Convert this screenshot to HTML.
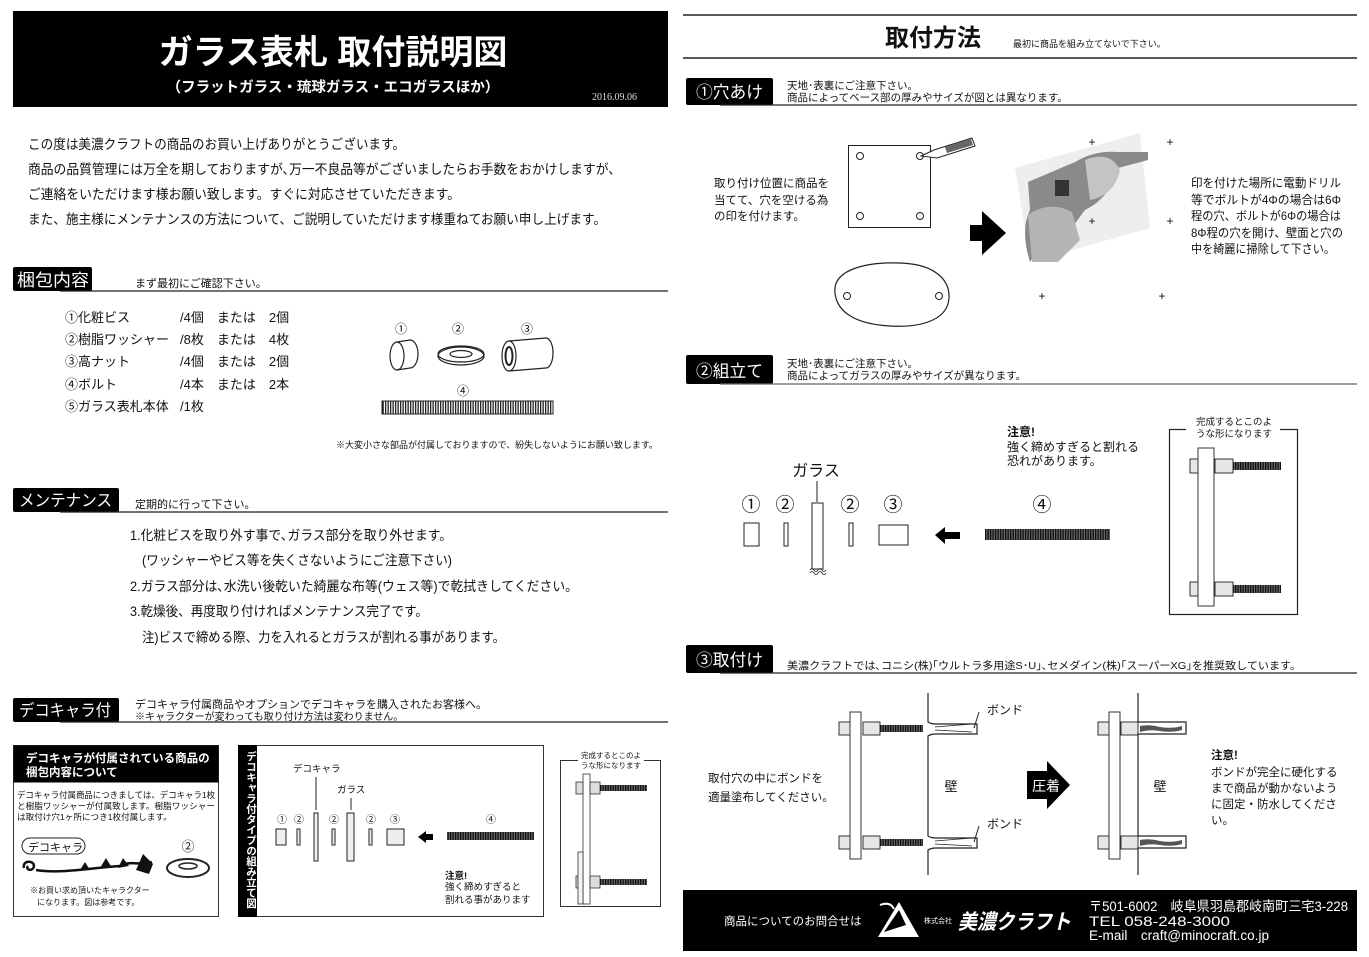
<!DOCTYPE html>
<html><head><meta charset="utf-8"><style>
html,body{margin:0;padding:0;background:#fff;width:1369px;height:957px;overflow:hidden}
svg{display:block}
text{font-family:"Liberation Sans","Noto Sans CJK JP",sans-serif;fill:#111}
</style></head><body>
<svg width="1369" height="957" viewBox="0 0 1369 957" xmlns="http://www.w3.org/2000/svg">
<defs>
<pattern id="thr" width="2.5" height="10" patternUnits="userSpaceOnUse"><rect width="2.5" height="10" fill="#fff"/><rect width="1.3" height="10" fill="#222"/></pattern>
<pattern id="thrd" width="2.5" height="10" patternUnits="userSpaceOnUse"><rect width="2.5" height="10" fill="#666"/><rect width="1.3" height="10" fill="#111"/></pattern>
</defs>

<!-- LEFT HEADER -->
<rect x="13" y="11" width="655" height="96" fill="#000"/>
<text x="333" y="64" text-anchor="middle" font-size="34" font-weight="bold" style="fill:#fff">ガラス表札 取付説明図</text>
<text x="333" y="92" text-anchor="middle" font-size="14.5" font-weight="bold" style="fill:#fff">（フラットガラス・琉球ガラス・エコガラスほか）</text>
<text x="592" y="100" font-size="10" style="fill:#ddd;font-family:'Liberation Serif',serif">2016.09.06</text>

<g font-size="13.5">
<text x="28" y="149" textLength="377" lengthAdjust="spacingAndGlyphs">この度は美濃クラフトの商品のお買い上げありがとうございます。</text>
<text x="28" y="174" textLength="593" lengthAdjust="spacingAndGlyphs">商品の品質管理には万全を期しておりますが､万一不良品等がございましたらお手数をおかけしますが、</text>
<text x="28" y="199" textLength="432" lengthAdjust="spacingAndGlyphs">ご連絡をいただけます様お願い致します。すぐに対応させていただきます。</text>
<text x="28" y="224" textLength="578" lengthAdjust="spacingAndGlyphs">また、施主様にメンテナンスの方法について、ご説明していただけます様重ねてお願い申し上げます。</text>
</g>

<!-- 梱包内容 -->
<rect x="13" y="267" width="79" height="24" fill="#000" rx="2"/>
<text x="17" y="286" font-size="17" style="fill:#fff" textLength="72" lengthAdjust="spacingAndGlyphs">梱包内容</text>
<line x1="60" y1="291" x2="668" y2="291" stroke="#222" stroke-width="1.3"/>
<text x="135" y="287" font-size="11">まず最初にご確認下さい。</text>
<g font-size="13">
<text x="65" y="322">①化粧ビス</text><text x="180" y="322">/4個　または　2個</text>
<text x="65" y="344">②樹脂ワッシャー</text><text x="180" y="344">/8枚　または　4枚</text>
<text x="65" y="366">③高ナット</text><text x="180" y="366">/4個　または　2個</text>
<text x="65" y="389">④ボルト</text><text x="180" y="389">/4本　または　2本</text>
<text x="65" y="411">⑤ガラス表札本体</text><text x="180" y="411">/1枚</text>
</g>
<g font-size="12" text-anchor="middle"><text x="401" y="333">①</text><text x="458" y="333">②</text><text x="527" y="333">③</text><text x="463" y="395">④</text></g>
<g fill="none" stroke="#222" stroke-width="1.2">
<path d="M397,342 L410,340 A8,14 0 0 1 410,368 L397,370"/><ellipse cx="397" cy="356" rx="7" ry="14"/>
<ellipse cx="461" cy="356" rx="23" ry="9"/><ellipse cx="461" cy="354" rx="23" ry="8"/><ellipse cx="461" cy="354" rx="11" ry="3.5"/>
<path d="M509,341 L546,338 A7,15 0 0 1 546,368 L509,371"/><ellipse cx="509" cy="356" rx="7" ry="15"/><ellipse cx="509" cy="356" rx="3.5" ry="9" stroke-width="2"/>
</g>
<rect x="382" y="401" width="171" height="13" fill="url(#thr)" stroke="#222"/>
<text x="336" y="448" font-size="9">※大変小さな部品が付属しておりますので、紛失しないようにお願い致します。</text>

<!-- メンテナンス -->
<rect x="13" y="488" width="106" height="24" fill="#000" rx="2"/>
<text x="19" y="506" font-size="16.5" style="fill:#fff" textLength="93" lengthAdjust="spacingAndGlyphs">メンテナンス</text>
<line x1="60" y1="512" x2="668" y2="512" stroke="#222" stroke-width="1.3"/>
<text x="135" y="508" font-size="11">定期的に行って下さい。</text>
<g font-size="13.5">
<text x="130" y="540" textLength="322" lengthAdjust="spacingAndGlyphs">1.化粧ビスを取り外す事で､ガラス部分を取り外せます。</text>
<text x="142" y="565" textLength="310" lengthAdjust="spacingAndGlyphs">(ワッシャーやビス等を失くさないようにご注意下さい)</text>
<text x="130" y="591" textLength="448" lengthAdjust="spacingAndGlyphs">2.ガラス部分は､水洗い後乾いた綺麗な布等(ウェス等)で乾拭きしてください。</text>
<text x="130" y="616" textLength="298" lengthAdjust="spacingAndGlyphs">3.乾燥後、再度取り付ければメンテナンス完了です。</text>
<text x="142" y="642" textLength="363" lengthAdjust="spacingAndGlyphs">注)ビスで締める際、力を入れるとガラスが割れる事があります。</text>
</g>

<!-- デコキャラ付 -->
<rect x="13" y="698" width="106" height="24" fill="#000" rx="2"/>
<text x="19" y="716" font-size="16.5" style="fill:#fff" textLength="92" lengthAdjust="spacingAndGlyphs">デコキャラ付</text>
<line x1="60" y1="722" x2="668" y2="722" stroke="#222" stroke-width="1.3"/>
<text x="135" y="708" font-size="11">デコキャラ付属商品やオプションでデコキャラを購入されたお客様へ。</text>
<text x="135" y="720" font-size="10">※キャラクターが変わっても取り付け方法は変わりません。</text>

<rect x="13.5" y="745.5" width="205" height="171" fill="#fff" stroke="#333"/>
<rect x="13.5" y="745.5" width="205" height="37" fill="#000"/>
<text x="26" y="762" font-size="11.5" font-weight="bold" style="fill:#fff">デコキャラが付属されている商品の</text>
<text x="26" y="776" font-size="11.5" font-weight="bold" style="fill:#fff">梱包内容について</text>
<g font-size="8.6"><text x="17" y="798" textLength="198" lengthAdjust="spacingAndGlyphs">デコキャラ付属商品につきましては、デコキャラ1枚</text><text x="17" y="809" textLength="198" lengthAdjust="spacingAndGlyphs">と樹脂ワッシャーが付属致します。樹脂ワッシャー</text><text x="17" y="820">は取付け穴1ヶ所につき1枚付属します。</text></g>
<rect x="22" y="838" width="63" height="16" rx="8" fill="none" stroke="#222"/>
<text x="28" y="851" font-size="11">デコキャラ</text>
<text x="188" y="851" font-size="13" text-anchor="middle">②</text>
<path d="M24,868 C22,860 34,860 34,866 C33,872 25,870 28,866 M36,870 C60,874 90,868 120,866 C130,860 140,866 152,862" fill="none" stroke="#111" stroke-width="2.5"/>
<path d="M100,868 l6,-10 l6,10z M136,870 l7,-16 l10,10 l-4,10z M118,868 l5,-10 l6,8z M80,870 l5,-8 l5,8z" fill="#111"/>
<ellipse cx="188" cy="868" rx="21" ry="9" fill="none" stroke="#222" stroke-width="2"/><ellipse cx="188" cy="866" rx="9" ry="3" fill="none" stroke="#222" stroke-width="1.5"/>
<text x="30" y="893" font-size="8">※お買い求め頂いたキャラクター</text><text x="37" y="905" font-size="8">になります。図は参考です。</text>

<rect x="238.5" y="745.5" width="305" height="171" fill="#fff" stroke="#333"/>
<rect x="238" y="745" width="19" height="172" fill="#000"/>
<text x="251" y="751" font-size="10.5" font-weight="bold" style="fill:#fff;writing-mode:tb" writing-mode="tb">デコキャラ付タイプの組み立て図</text>
<text x="293" y="772" font-size="9.5">デコキャラ</text>
<text x="337" y="793" font-size="9.5">ガラス</text>
<line x1="316" y1="777" x2="316" y2="810" stroke="#222"/><line x1="351" y1="798" x2="351" y2="810" stroke="#222"/>
<g font-size="10" text-anchor="middle"><text x="282" y="823">①</text><text x="299" y="823">②</text><text x="334" y="823">②</text><text x="371" y="823">②</text><text x="395" y="823">③</text><text x="491" y="823">④</text></g>
<g fill="#eee" stroke="#222" stroke-width="1"><rect x="276" y="829" width="10" height="16"/><rect x="297" y="829" width="3" height="16"/><rect x="314" y="813" width="4" height="48"/><rect x="332" y="829" width="3" height="16"/><rect x="347" y="813" width="7" height="48"/><rect x="369" y="829" width="3" height="16"/><rect x="387" y="829" width="17" height="16"/></g>
<path d="M418,837 l8,-6 v3 h7 v6 h-7 v3z" fill="#000"/>
<rect x="447" y="832" width="87" height="8" fill="url(#thrd)"/>
<text x="445" y="879" font-size="9.5" font-weight="bold">注意!</text>
<text x="445" y="890" font-size="9.5">強く締めすぎると</text><text x="445" y="903" font-size="9.5">割れる事があります</text>

<rect x="560.5" y="760.5" width="100" height="146" fill="#fff" stroke="#333"/>
<rect x="578" y="757" width="66" height="15" fill="#fff"/>
<text x="611" y="758" font-size="7.5" text-anchor="middle">完成するとこのよ</text><text x="611" y="768" font-size="7.5" text-anchor="middle">うな形になります</text>
<g fill="#ddd" stroke="#333" stroke-width="0.8"><rect x="583" y="774" width="7" height="130" fill="#fff"/><rect x="576" y="782" width="7" height="12"/><rect x="590" y="782" width="10" height="12"/><rect x="576" y="876" width="7" height="12"/><rect x="590" y="876" width="10" height="12"/><rect x="578" y="852" width="5" height="52" fill="#f4f4f4"/></g>
<rect x="600" y="785" width="47" height="6" fill="url(#thrd)"/><rect x="600" y="879" width="47" height="6" fill="url(#thrd)"/>

<!-- RIGHT -->
<line x1="683" y1="15" x2="1357" y2="15" stroke="#222" stroke-width="1.5"/>
<line x1="683" y1="58" x2="1357" y2="58" stroke="#222" stroke-width="1.5"/>
<text x="933" y="46" text-anchor="middle" font-size="24" font-weight="bold">取付方法</text>
<text x="1013" y="47" font-size="9">最初に商品を組み立てないで下さい。</text>

<rect x="686" y="78" width="87" height="27" fill="#000" rx="2"/>
<text x="696" y="98" font-size="17" style="fill:#fff" textLength="67" lengthAdjust="spacingAndGlyphs">①穴あけ</text>
<line x1="720" y1="105" x2="1357" y2="105" stroke="#222" stroke-width="1.3"/>
<text x="787" y="89" font-size="10.5">天地･表裏にご注意下さい。</text><text x="787" y="101" font-size="10.5">商品によってベース部の厚みやサイズが図とは異なります。</text>
<g font-size="11.5"><text x="714" y="187">取り付け位置に商品を</text><text x="714" y="204">当てて、穴を空ける為</text><text x="714" y="220">の印を付けます。</text></g>
<rect x="848.5" y="145.5" width="82" height="82" fill="#fff" stroke="#222"/>
<g fill="none" stroke="#222"><circle cx="860" cy="156" r="3.5"/><circle cx="920" cy="156" r="3.5"/><circle cx="860" cy="216" r="3.5"/><circle cx="920" cy="216" r="3.5"/></g>
<path d="M921,156 L934,150 L972,138 L975,146 L937,158z" fill="#fff" stroke="#222"/><path d="M945,147 l26,-8 l2,6 l-26,8z" fill="#666"/>
<path d="M970,225 h12 v-14 l24,22 l-24,22 v-14 h-12z" fill="#000"/>
<g>
<path d="M1015,168 L1140,133 L1150,228 L1030,262z" fill="#eee"/>
<path d="M1028,182 L1075,162 Q1095,150 1118,152 L1148,152 L1148,160 L1118,168 Q1110,198 1085,210 L1070,230 L1040,245 L1030,262 Q1020,230 1030,210 Z" fill="#8a8a8a"/>
<path d="M1028,215 Q1050,200 1072,212 L1080,240 L1058,262 L1032,262 Z" fill="#b5b5b5"/>
<path d="M1085,160 Q1110,150 1120,170 Q1115,195 1090,200 Z" fill="#c4c4c4"/>
<rect x="1055" y="180" width="14" height="16" fill="#333"/>
</g>
<g font-size="12" text-anchor="middle"><text x="1092" y="146">+</text><text x="1170" y="146">+</text><text x="1092" y="225">+</text><text x="1170" y="225">+</text><text x="1042" y="300">+</text><text x="1162" y="300">+</text></g>
<path d="M835,293 C832,268 870,262 900,263 C935,264 950,280 949,298 C948,318 925,328 890,326 C855,324 837,312 835,293z" fill="none" stroke="#222" stroke-width="1.2"/>
<circle cx="847" cy="296" r="3.5" fill="none" stroke="#222"/><circle cx="939" cy="296" r="3.5" fill="none" stroke="#222"/>
<g font-size="12"><text x="1191" y="187" textLength="150" lengthAdjust="spacingAndGlyphs">印を付けた場所に電動ドリル</text><text x="1191" y="204" textLength="150" lengthAdjust="spacingAndGlyphs">等でボルトが4Φの場合は6Φ</text><text x="1191" y="220" textLength="150" lengthAdjust="spacingAndGlyphs">程の穴、ボルトが6Φの場合は</text><text x="1191" y="237" textLength="152" lengthAdjust="spacingAndGlyphs">8Φ程の穴を開け、壁面と穴の</text><text x="1191" y="253" textLength="144" lengthAdjust="spacingAndGlyphs">中を綺麗に掃除して下さい。</text></g>

<rect x="686" y="355" width="87" height="29" fill="#000" rx="2"/>
<text x="696" y="377" font-size="17" style="fill:#fff" textLength="67" lengthAdjust="spacingAndGlyphs">②組立て</text>
<line x1="720" y1="384" x2="1357" y2="384" stroke="#666" stroke-width="1.3"/>
<text x="787" y="367" font-size="10.5">天地･表裏にご注意下さい。</text><text x="787" y="379" font-size="10.5">商品によってガラスの厚みやサイズが異なります。</text>
<text x="816" y="476" text-anchor="middle" font-size="16">ガラス</text>
<line x1="817" y1="481" x2="817" y2="502" stroke="#222"/>
<g font-size="19" text-anchor="middle"><text x="751" y="511">①</text><text x="785" y="511">②</text><text x="850" y="511">②</text><text x="893" y="511">③</text><text x="1042" y="511">④</text></g>
<g fill="#fff" stroke="#222" stroke-width="1"><rect x="744" y="523" width="15" height="23"/><rect x="784" y="523" width="4" height="23"/><rect x="812" y="503" width="11" height="66"/><rect x="849" y="523" width="4" height="23"/><rect x="879" y="525" width="29" height="20"/></g>
<path d="M810,570 q2,-3 4,0 q2,3 4,0 q2,-3 4,0 q2,3 4,0 M810,573 q2,-3 4,0 q2,3 4,0 q2,-3 4,0 q2,3 4,0" fill="none" stroke="#222" stroke-width="0.8"/>
<path d="M935,535 l10,-8 v5 h15 v7 h-15 v5z" fill="#000"/>
<rect x="985" y="529" width="125" height="11" fill="url(#thrd)"/>
<text x="1007" y="436" font-size="12" font-weight="bold">注意!</text>
<text x="1007" y="451" font-size="12">強く締めすぎると割れる</text><text x="1007" y="465" font-size="12">恐れがあります。</text>
<rect x="1169.5" y="429.5" width="128" height="185" fill="#fff" stroke="#222" stroke-width="1.2"/>
<rect x="1186" y="420" width="94" height="20" fill="#fff"/>
<text x="1196" y="425" font-size="9.5">完成するとこのよ</text><text x="1196" y="437" font-size="9.5">うな形になります</text>
<g fill="#e6e6e6" stroke="#333"><rect x="1190" y="459" width="9" height="14"/><rect x="1215" y="459" width="18" height="14"/><rect x="1190" y="582" width="9" height="14"/><rect x="1215" y="582" width="18" height="14"/><rect x="1198" y="448" width="16" height="158" fill="#fff"/></g>
<rect x="1233" y="462" width="48" height="8" fill="url(#thrd)"/><rect x="1233" y="585" width="48" height="8" fill="url(#thrd)"/>

<rect x="686" y="645" width="87" height="28" fill="#000" rx="2"/>
<text x="696" y="666" font-size="17" style="fill:#fff" textLength="67" lengthAdjust="spacingAndGlyphs">③取付け</text>
<line x1="720" y1="673" x2="1357" y2="673" stroke="#222" stroke-width="1.3"/>
<text x="787" y="669" font-size="10.5" textLength="514" lengthAdjust="spacingAndGlyphs">美濃クラフトでは､コニシ(株)｢ウルトラ多用途S･U｣､セメダイン(株)｢スーパーXG｣を推奨致しています。</text>
<text x="708" y="782" font-size="11.5">取付穴の中にボンドを</text><text x="708" y="801" font-size="11.5">適量塗布してください。</text>

<g fill="#e6e6e6" stroke="#333">
<rect x="839" y="722" width="11" height="13"/><rect x="863" y="722" width="17" height="13"/><rect x="839" y="836" width="11" height="13"/><rect x="863" y="836" width="17" height="13"/>
<rect x="850" y="712" width="11" height="147" fill="#fff"/>
<rect x="1098" y="722" width="11" height="13"/><rect x="1121" y="722" width="17" height="13"/><rect x="1098" y="836" width="11" height="13"/><rect x="1121" y="836" width="17" height="13"/>
<rect x="1109" y="712" width="11" height="147" fill="#fff"/>
</g>
<rect x="880" y="725" width="43" height="7" fill="url(#thrd)"/><rect x="880" y="839" width="43" height="7" fill="url(#thrd)"/>
<g fill="none" stroke="#222" stroke-width="1.2">
<path d="M928,693 V722 q3,2 8,2 H977 V734 H936 q-5,0 -8,2 V836 q3,2 8,2 H977 V848 H936 q-5,0 -8,2 V875"/>
<path d="M935,727 L972,724 M935,730 L972,732 M935,841 L972,838 M935,844 L972,846" stroke-width="0.7"/>
<path d="M974,728 l5,-16 M974,842 l5,-16" stroke-width="1"/>
<path d="M1138,693 V722 H1186 V734 H1138 V836 H1186 V848 H1138 V875"/>
</g>
<path d="M1140,726 q10,-2 20,1 q12,2 22,-1 v4 q-10,3 -22,1 q-10,-2 -20,1z M1140,840 q10,-2 20,1 q12,2 22,-1 v4 q-10,3 -22,1 q-10,-2 -20,1z" fill="#555"/>
<text x="987" y="714" font-size="12">ボンド</text><text x="987" y="828" font-size="12">ボンド</text>
<text x="951" y="791" text-anchor="middle" font-size="13">壁</text><text x="1160" y="791" text-anchor="middle" font-size="13">壁</text>
<path d="M1027,771 h20 v-10 l23,24 l-23,24 v-10 h-20z" fill="#000"/>
<text x="1032" y="791" font-size="14" style="fill:#fff">圧着</text>
<text x="1211" y="759" font-size="11.5" font-weight="bold">注意!</text>
<g font-size="11.5"><text x="1211" y="776">ボンドが完全に硬化する</text><text x="1211" y="792">まで商品が動かないよう</text><text x="1211" y="808">に固定・防水してくださ</text><text x="1211" y="824">い。</text></g>

<!-- FOOTER -->
<rect x="683" y="890" width="674" height="61" fill="#000"/>
<text x="724" y="925" font-size="11.5" style="fill:#fff">商品についてのお問合せは</text>
<path d="M878,937 L899,902 L919,937 Z" fill="#fff"/><path d="M884,932 L899,910 L906,925 Z" fill="#000"/><path d="M880,905 q10,-4 14,4" fill="none" stroke="#fff" stroke-width="2"/>
<text x="924" y="923" font-size="7" style="fill:#fff">株式会社</text>
<text x="958" y="929" font-size="21" font-weight="bold" font-style="italic" style="fill:#fff" textLength="113" lengthAdjust="spacingAndGlyphs">美濃クラフト</text>
<g font-size="13.5"><text x="1089" y="911" style="fill:#fff" textLength="259" lengthAdjust="spacingAndGlyphs">〒501-6002　岐阜県羽島郡岐南町三宅3-228</text><text x="1089" y="926" style="fill:#fff" textLength="141" lengthAdjust="spacingAndGlyphs">TEL 058-248-3000</text><text x="1089" y="940" style="fill:#fff" textLength="180" lengthAdjust="spacingAndGlyphs">E-mail　craft@minocraft.co.jp</text></g>
</svg>
</body></html>
